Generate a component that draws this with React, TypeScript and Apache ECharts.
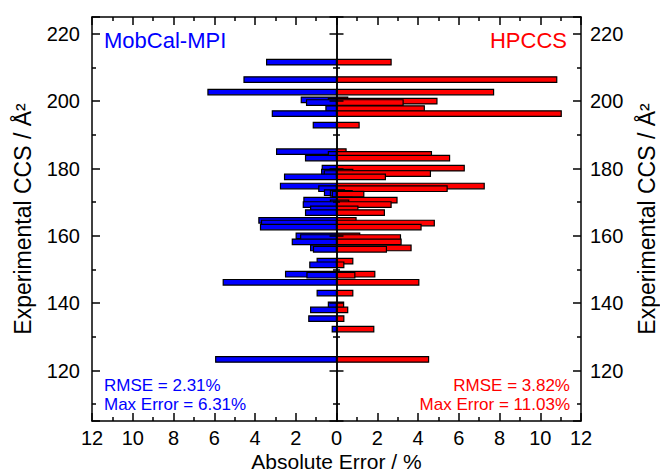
import React, { useEffect, useRef } from 'react';
import * as echarts from 'echarts';

// Experimental CCS (Å²) of each compound
const ccs = [211.6, 206.4, 202.7, 200.4, 200.0, 199.6, 197.8, 196.3, 192.9, 185.0, 184.2, 183.1, 180.1, 178.9, 178.5, 177.5, 174.8, 174.0, 172.8, 172.6, 172.4, 170.6, 169.8, 169.3, 168.0, 166.9, 164.6, 163.8, 162.6, 160.0, 159.5, 158.2, 156.4, 156.0, 152.5, 151.4, 148.6, 148.3, 146.2, 143.0, 139.5, 138.0, 135.4, 132.3, 123.3];
// Absolute error (%) MobCal-MPI
const mobcalErr = [3.43, 4.54, 6.31, 1.73, 0.40, 1.47, 0.52, 3.15, 1.14, 2.94, 0.40, 1.52, 0.70, 0.73, 0.60, 2.55, 2.75, 0.87, 0.59, 0.30, 0.20, 1.60, 0.30, 1.63, 1.27, 1.52, 3.81, 3.68, 3.73, 1.98, 1.76, 2.17, 1.27, 1.13, 0.95, 1.31, 2.50, 1.45, 5.56, 0.95, 0.40, 1.27, 1.36, 0.21, 5.93];
// Absolute error (%) HPCCS
const hpccsErr = [2.68, 10.81, 7.71, 0.55, 4.93, 3.27, 4.31, 11.03, 1.11, 0.47, 4.66, 5.55, 6.27, 0.80, 4.61, 2.40, 7.25, 5.43, 0.39, 0.77, 1.34, 2.97, 0.60, 2.68, 1.05, 2.35, 0.96, 4.80, 4.15, 1.14, 3.14, 3.17, 3.66, 2.45, 0.80, 0.36, 1.88, 0.90, 4.04, 0.80, 0.35, 0.55, 0.36, 1.83, 4.52];

const leftLabel = 'MobCal-MPI';
const rightLabel = 'HPCCS';
const leftStats = ['RMSE = 2.31%', 'Max Error = 6.31%'];
const rightStats = ['RMSE = 3.82%', 'Max Error = 11.03%'];

const FONT = '"Liberation Sans", Arial, sans-serif';
const BLUE = '#0000FF';
const RED = '#FF0000';
const BAR_H = 1.65;

export default function App() {
  const ref = useRef<HTMLDivElement>(null);
  useEffect(() => {
    const chart = echarts.init(ref.current!, null, { renderer: 'svg' });
    const line = { color: '#000', width: 1.5 };
    const makeRender = (color: string) => (params: any, api: any) => {
      const x = api.value(0);
      const y = api.value(1);
      const p0 = api.coord([0, y]);
      const p1 = api.coord([x, y]);
      const h = api.size([0, BAR_H])[1];
      return {
        type: 'rect',
        shape: { x: Math.min(p0[0], p1[0]), y: p0[1] - h / 2, width: Math.abs(p1[0] - p0[0]), height: h },
        style: { fill: color, stroke: '#000', lineWidth: 1.2 },
      };
    };
    const frameY = (position: string, margin: number, nameGap: number) => ({
      type: 'value',
      position,
      min: 105,
      max: 225,
      splitNumber: 6,
      axisLine: { show: true, onZero: false, lineStyle: line },
      axisTick: { show: true, inside: true, length: 8, lineStyle: line },
      minorTick: { show: true, splitNumber: 2, length: 4, lineStyle: line },
      splitLine: { show: false },
      minorSplitLine: { show: false },
      axisLabel: {
        margin,
        fontSize: 20,
        color: '#000',
        fontFamily: FONT,
        formatter: (v: number) => (v % 20 === 0 ? String(v) : ''),
      },
      name: 'Experimental CCS / Å²',
      nameLocation: 'middle',
      nameGap,
      nameMoveOverlap: false,
      nameRotate: 90,
      nameTextStyle: { fontSize: 23, color: '#000', fontFamily: FONT },
    });
    const centerY = (inside: boolean) => ({
      type: 'value',
      position: 'left',
      min: 105,
      max: 225,
      splitNumber: 6,
      z: 10,
      axisLine: { show: true, onZero: true, onZeroAxisIndex: 0, lineStyle: line },
      axisTick: { show: true, inside, length: 7, lineStyle: line },
      minorTick: { show: true, splitNumber: 2, length: 3.5, lineStyle: line },
      splitLine: { show: false },
      axisLabel: { show: false },
    });
    const xAx = (position: string, showLabel: boolean) => ({
      type: 'value',
      position,
      min: -12,
      max: 12,
      interval: 2,
      axisLine: { show: true, onZero: false, lineStyle: line },
      axisTick: { show: true, inside: true, length: 8, lineStyle: line },
      minorTick: { show: true, splitNumber: 2, length: 4, lineStyle: line },
      splitLine: { show: false },
      axisLabel: {
        show: showLabel,
        margin: 7,
        fontSize: 20,
        color: '#000',
        fontFamily: FONT,
        formatter: (v: number) => String(Math.abs(v)),
      },
      name: showLabel ? 'Absolute Error / %' : '',
      nameLocation: 'middle',
      nameGap: 30,
      nameMoveOverlap: false,
      nameTextStyle: { fontSize: 21, color: '#000', fontFamily: FONT },
    });
    const txt = (text: string, x: number, y: number, size: number, color: string, align: string) => ({
      type: 'text',
      x,
      y,
      z: 20,
      style: { text, fontSize: size, fontFamily: FONT, fill: color, align, verticalAlign: 'middle' },
    });
    chart.setOption({
      animation: false,
      backgroundColor: '#fff',
      grid: { left: 92, right: 79, top: 17, bottom: 54, containLabel: false, outerBoundsMode: 'none' },
      xAxis: [xAx('bottom', true), xAx('top', false)],
      yAxis: [frameY('left', 12, 58), frameY('right', 9, 54), centerY(true), centerY(false)],
      series: [
        {
          type: 'custom',
          name: 'MobCal-MPI',
          xAxisIndex: 0,
          yAxisIndex: 0,
          renderItem: makeRender(BLUE),
          encode: { x: 0, y: 1 },
          data: ccs.map((c, i) => [-mobcalErr[i], c]),
        },
        {
          type: 'custom',
          name: 'HPCCS',
          xAxisIndex: 0,
          yAxisIndex: 0,
          renderItem: makeRender(RED),
          encode: { x: 0, y: 1 },
          data: ccs.map((c, i) => [hpccsErr[i], c]),
        },
      ],
      graphic: [
        txt(leftLabel, 104, 40, 22, BLUE, 'left'),
        txt(rightLabel, 567, 40, 22, RED, 'right'),
        txt(leftStats[0], 104, 385, 17, BLUE, 'left'),
        txt(leftStats[1], 104, 404, 17, BLUE, 'left'),
        txt(rightStats[0], 570, 385, 17, RED, 'right'),
        txt(rightStats[1], 570, 404, 17, RED, 'right'),
      ],
    });
    return () => chart.dispose();
  }, []);
  return <div ref={ref} style={{ position: 'absolute', left: 0, top: 0, width: 660, height: 475 }} />;
}
